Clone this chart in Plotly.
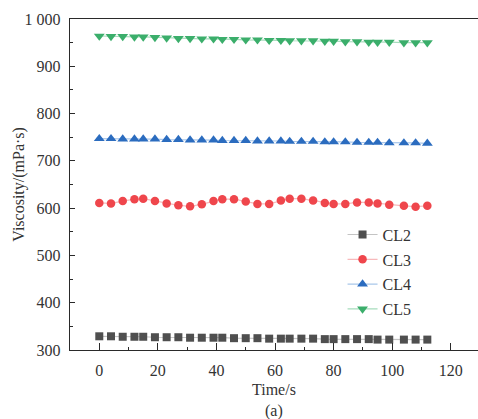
import plotly.graph_objects as go

# Sampling times (s)
time_s = [0, 4, 8, 12, 15, 19, 23, 27, 31, 35, 39, 42, 46, 50, 54,
          58, 62, 65, 69, 73, 77, 80, 84, 88, 92, 95, 99, 104, 108, 112]

# Viscosity (mPa·s) for each fluid
cl2 = [329, 329, 328, 328, 328, 327, 327, 327, 326, 326, 326, 326, 325, 325, 325,
       324, 324, 324, 324, 324, 323, 323, 323, 323, 323, 322, 322, 322, 322, 322]
cl3 = [611, 610, 615, 619, 620, 615, 610, 606, 604, 608, 615, 619, 619, 614, 609,
       609, 616, 620, 620, 616, 611, 609, 609, 612, 612, 610, 607, 605, 603, 605]
cl4 = [747, 747, 746, 746, 746, 746, 745, 745, 744, 744, 744, 743, 743, 743, 742,
       742, 742, 741, 741, 741, 740, 740, 740, 739, 739, 739, 738, 738, 738, 737]
cl5 = [964, 963, 963, 962, 962, 961, 960, 959, 959, 958, 958, 957, 957, 956, 956,
       955, 955, 954, 954, 954, 953, 953, 952, 952, 951, 951, 951, 950, 950, 950]

y_ticks = [300, 400, 500, 600, 700, 800, 900, 1000]
y_tick_text = ["300", "400", "500", "600", "700", "800", "900", "1 000"]
x_ticks = [0, 20, 40, 60, 80, 100, 120]

series = [
    ("CL2", cl2, "square", 8, "#4f4f4f", "#c4c4c4"),
    ("CL3", cl3, "circle", 8.5, "#ef464c", "#f7b9bb"),
    ("CL4", cl4, "triangle-up", 9.5, "#2b6cbf", "#a9c7ea"),
    ("CL5", cl5, "triangle-down", 9.5, "#3bae6b", "#a6dcbc"),
]

font_family = "Liberation Serif"
text_col = "#333333"


def txt_font(size=16):
    return dict(size=size, family=font_family, color=text_col, weight="normal")


fig = go.Figure()
for name, vals, sym, size, mcol, lcol in series:
    fig.add_trace(go.Scatter(
        x=time_s, y=vals, name=name, legendgroup=name,
        mode="lines+markers",
        line=dict(color=lcol, width=1.2),
        marker=dict(symbol=sym, size=size, color=mcol, line=dict(width=0)),
    ))

axis_col = "#2a2a2a"
fig.update_layout(
    width=478, height=419,
    margin=dict(l=70, r=0, t=19, b=69),
    paper_bgcolor="white", plot_bgcolor="white",
    font=txt_font(),
    showlegend=True,
    legend=dict(
        x=0.668, y=0.40, xanchor="left", yanchor="top",
        bgcolor="rgba(0,0,0,0)", borderwidth=0,
        font=txt_font(),
        traceorder="grouped", tracegroupgap=1,
    ),
    xaxis=dict(
        range=[-10, 129.3],
        tickvals=x_ticks,
        ticks="inside", ticklen=7, tickwidth=1.2, tickcolor=axis_col,
        minor=dict(dtick=10, tick0=0, ticks="inside", ticklen=3, tickwidth=1.2, tickcolor=axis_col),
        showline=True, linecolor=axis_col, linewidth=1.4, mirror=True,
        showgrid=False, zeroline=False,
        ticklabelstandoff=6,
        tickfont=txt_font(),
    ),
    yaxis=dict(
        range=[300, 1000],
        tickvals=y_ticks, ticktext=y_tick_text,
        ticks="inside", ticklen=5, tickwidth=1.2, tickcolor=axis_col,
        minor=dict(dtick=50, tick0=300, ticks="inside", ticklen=3, tickwidth=1.2, tickcolor=axis_col),
        showline=True, linecolor=axis_col, linewidth=1.4,
        showgrid=False, zeroline=False,
        ticklabelstandoff=5,
        tickfont=txt_font(),
    ),
    annotations=[
        dict(
            text="Viscosity/(mPa·s)", xref="paper", yref="paper",
            x=-0.127, y=0.5, textangle=-90,
            xanchor="center", yanchor="middle", showarrow=False,
            font=txt_font(),
        ),
        dict(
            text="Time/s", xref="paper", yref="paper", x=0.5, y=-0.12,
            xanchor="center", yanchor="middle", showarrow=False,
            font=txt_font(), borderpad=0,
        ),
        dict(
            text="(a)", xref="paper", yref="paper", x=0.5, y=-0.184,
            xanchor="center", yanchor="middle", showarrow=False,
            font=txt_font(), borderpad=0,
        ),
    ],
)

fig.write_html("out.html")
